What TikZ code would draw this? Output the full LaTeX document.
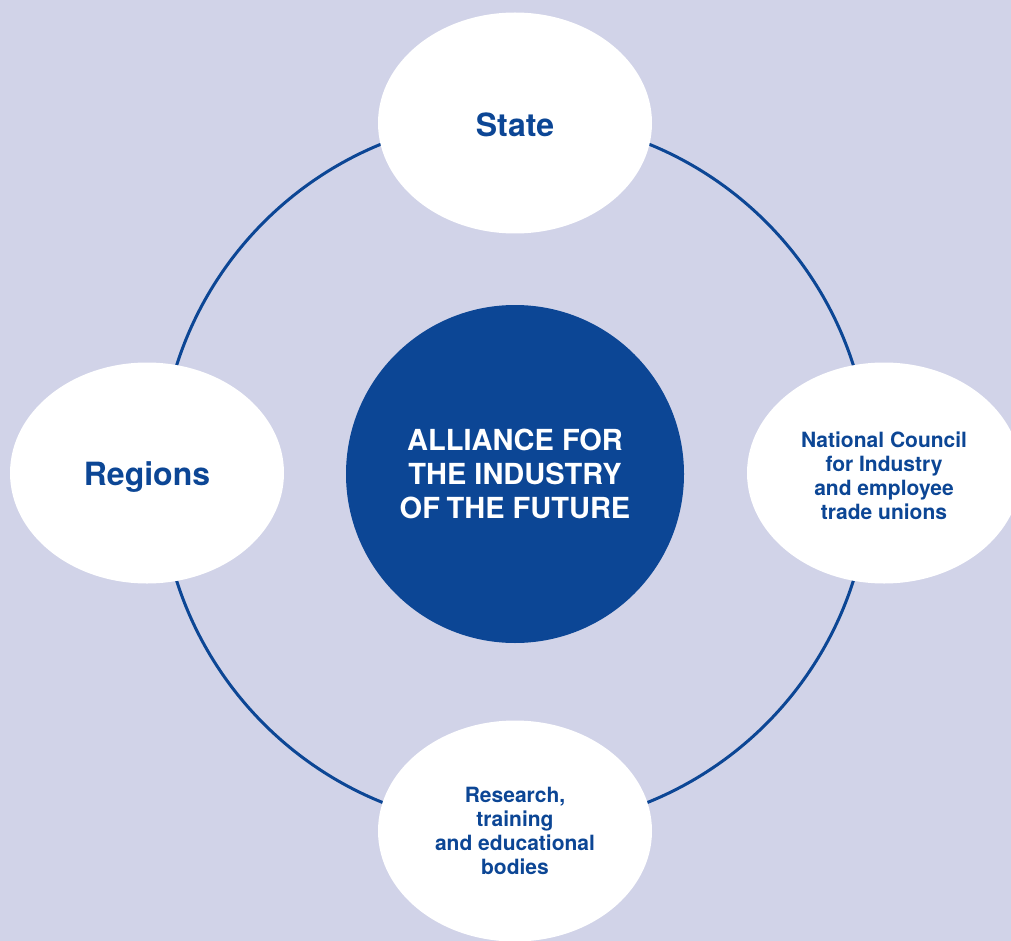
\documentclass[tikz,border=0pt]{standalone}
\usepackage{fontspec}
\setmainfont{TeX Gyre Heros}
\usetikzlibrary{shapes.geometric}
\definecolor{bgLav}{HTML}{D1D3E8}
\definecolor{deepBlue}{HTML}{0C4695}
\tikzset{
  partner/.style={ellipse, fill=white, minimum width=274pt, minimum height=221pt, inner sep=0pt},
  smalltext/.style={text=deepBlue, font=\bfseries\fontsize{21}{24}\selectfont, align=center, inner sep=0pt},
  bigtext/.style={text=deepBlue, font=\bfseries\fontsize{32}{36}\selectfont, inner sep=0pt},
  hub/.style={circle, fill=deepBlue, minimum size=338pt, inner sep=0pt,
    text=white, font=\bfseries\fontsize{29}{34}\selectfont, align=center},
  ring/.style={draw=deepBlue, line width=3pt}
}
\begin{document}
\begin{tikzpicture}[x=1pt,y=-1pt]
  \useasboundingbox (0,0) rectangle (1011,941);
  \clip (0,0) rectangle (1011,941);
  \fill[bgLav] (0,0) rectangle (1011,941);
  % the ring joining the four partners
  \coordinate (mid) at (515,473);
  \draw[ring] (mid) circle (355pt);
  % partners around the ring
  \node[partner] (state) at (515,123) {};
  \node[bigtext] (stateText) at ([yshift=-2pt]state.center) {State};
  \node[partner] (regions) at (147,473) {};
  \node[bigtext] (regionsText) at ([yshift=-4pt]regions.center) {Regions};
  \node[partner] (council) at (884,473) {};
  \node[smalltext] (councilText) at ([yshift=-3pt]council.center)
    {National Council\\for Industry\\and employee\\trade unions};
  \node[partner] (research) at (515,831) {};
  \node[smalltext] (researchText) at (research.center)
    {Research,\\training\\and educational\\bodies};
  % the alliance in the middle
  \node[hub] (alliance) at ([yshift=-1pt]mid) {ALLIANCE FOR\\THE INDUSTRY\\OF\kern-0.05em{} THE FUTURE};
\end{tikzpicture}
\end{document}
